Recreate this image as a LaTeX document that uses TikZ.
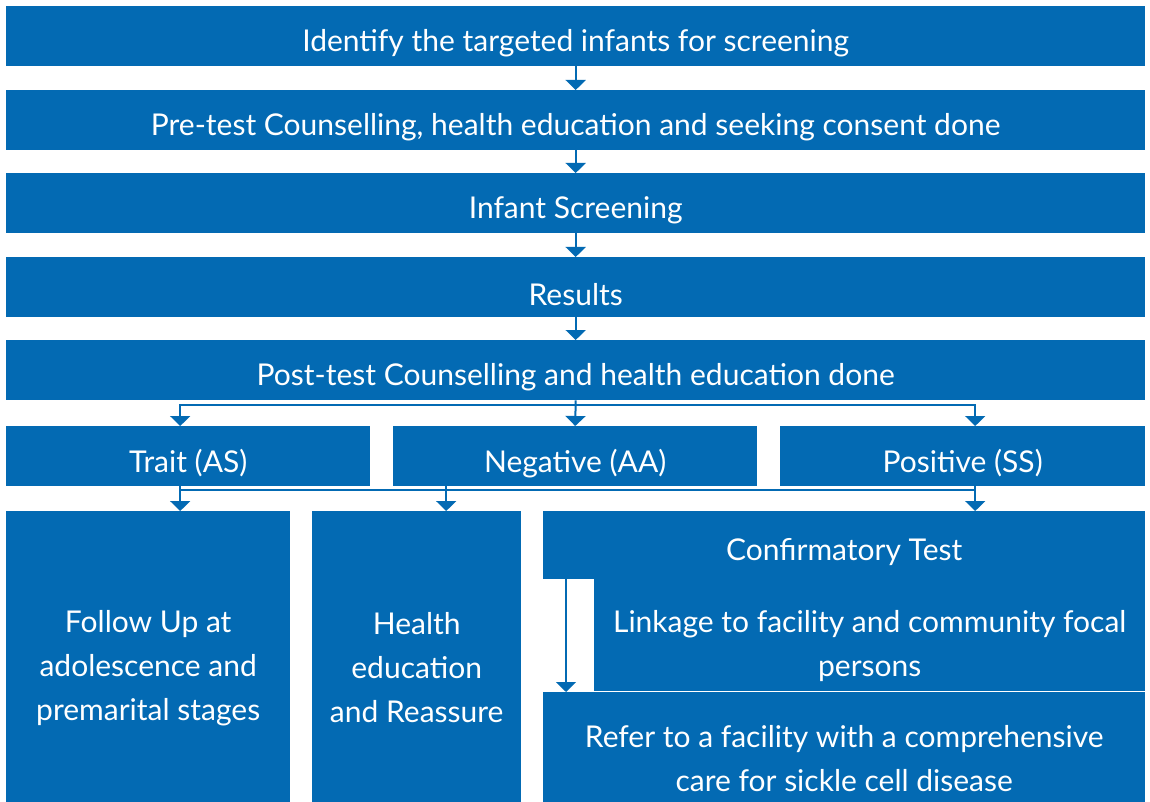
\documentclass[tikz,border=0pt]{standalone}
\usepackage{fontspec}
\setmainfont{Lato}
\usetikzlibrary{arrows.meta}
\definecolor{flowblue}{RGB}{3,106,179}

\begin{document}
\begin{tikzpicture}[x = 1pt, y = -1pt,
    txt/.style = {text = white, align = center, font = \fontsize{30}{44}\selectfont, yshift = -7pt},
    blk/.style = {fill = flowblue, inner sep = 0pt, anchor = north west, label = {[txt]center:{#1}}},
    blkk/.style = {fill = flowblue, inner sep = 0pt, anchor = north west, label = {[txt, yshift = -4pt]center:{#1}}},
    arr/.style = {flowblue, line width = 2pt, -{Triangle[width = 20pt, length = 10pt]}},
    lin/.style = {flowblue, line width = 2pt}]
    \useasboundingbox (0,0) rectangle (1150,802);
    % main column
    \node[blk = {Identify the targeted infants for screening}, minimum width = 1139pt, minimum height = 60pt] (B1) at (6,6) {};
    \node[blk = {Pre-test Counselling, health education and seeking consent done}, minimum width = 1139pt, minimum height = 60pt] (B2) at (6,90) {};
    \node[blk = {Infant Screening}, minimum width = 1139pt, minimum height = 60pt] (B3) at (6,173) {};
    \node[blk = {Results}, minimum width = 1139pt, minimum height = 60pt] (B4) at (6,257) {};
    \node[blk = {Post-test Counselling and health education done}, minimum width = 1139pt, minimum height = 60pt] (B5) at (6,340) {};
    \draw[arr] (B1.south) -- (B2.north);
    \draw[arr] (B2.south) -- (B3.north);
    \draw[arr] (B3.south) -- (B4.north);
    \draw[arr] (B4.south) -- (B5.north);
    % results
    \node[blk = {Trait (AS)}, minimum width = 364pt, minimum height = 60pt] (TRAIT) at (6,426) {};
    \node[blk = {Negative (AA)}, minimum width = 364pt, minimum height = 60pt] (NEG) at (393,426) {};
    \node[blk = {Positive (SS)}, minimum width = 365pt, minimum height = 60pt] (POS) at (780,426) {};
    \draw[arr] (B5.south) -- (NEG.north);
    \draw[arr] (B5.south) ++(0,5) -| ([xshift=-8pt]TRAIT.north);
    \draw[arr] (B5.south) ++(0,5) -| ([xshift=12.5pt]POS.north);
    % actions
    \node[blkk = {Follow Up at\\adolescence and\\premarital stages}, minimum width = 284pt, minimum height = 291pt] (FOLLOW) at (6,511) {};
    \node[blkk = {Health\\education\\and Reassure}, minimum width = 209pt, minimum height = 291pt] (HEALTH) at (312,511) {};
    \node[blk = {Confirmatory Test}, minimum width = 602pt, minimum height = 68pt] (CONF) at (543,511) {};
    \node[blkk = {Linkage to facility and community focal\\persons}, minimum width = 551pt, minimum height = 112pt] (LINK) at (594,579) {};
    \node[blkk = {Refer to a facility with a comprehensive\\care for sickle cell disease}, minimum width = 602pt, minimum height = 110pt] (REFER) at (543,692) {};
    \draw[lin] ([xshift=-8pt]TRAIT.south) ++(0,4) -- ++(795,0);
    \draw[arr] ([xshift=-8pt]TRAIT.south) -- ([xshift=-8pt]TRAIT.south |- FOLLOW.north);
    \draw[arr] ([xshift=-129pt]NEG.south) -- ([xshift=-129pt]NEG.south |- HEALTH.north);
    \draw[arr] ([xshift=12.5pt]POS.south) -- ([xshift=12.5pt]POS.south |- CONF.north);
    \draw[arr] ([xshift=23pt]CONF.south west) -- ([xshift=23pt]REFER.north west);
\end{tikzpicture}
\end{document}
